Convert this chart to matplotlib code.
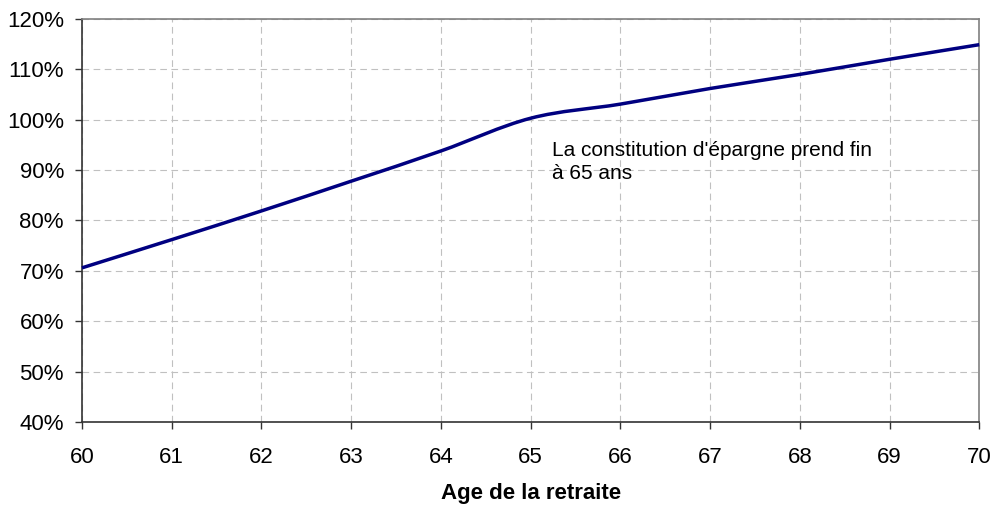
import numpy as np
import matplotlib
matplotlib.use("Agg")
import matplotlib.pyplot as plt
from matplotlib.path import Path
from matplotlib.patches import PathPatch
from matplotlib.ticker import PercentFormatter

plt.rcParams['font.family'] = ['Liberation Sans', 'DejaVu Sans']

ages = [60, 61, 62, 63, 64, 65, 66, 67, 68, 69, 70]
ratio = [70.6, 76.2, 81.9, 87.8, 93.8, 100.3, 103.1, 106.2, 109.0, 112.0, 114.9]
note = "La constitution d'épargne prend fin\nà 65 ans"
x_label = "Age de la retraite"

fig = plt.figure(figsize=(9.97, 5.09), dpi=100, facecolor="white")
ax = fig.add_axes([0.0822, 0.1709, 0.9000, 0.7918])

# smoothed line like Excel: cubic bezier segments (Catmull-Rom tangents)
x = np.array(ages, dtype=float)
y = np.array(ratio, dtype=float)
verts = [(x[0], y[0])]
codes = [Path.MOVETO]
n = len(x)
for i in range(n - 1):
    p0 = (x[max(i - 1, 0)], y[max(i - 1, 0)])
    p1 = (x[i], y[i])
    p2 = (x[i + 1], y[i + 1])
    p3 = (x[min(i + 2, n - 1)], y[min(i + 2, n - 1)])
    c1 = (p1[0] + (p2[0] - p0[0]) / 6, p1[1] + (p2[1] - p0[1]) / 6)
    c2 = (p2[0] - (p3[0] - p1[0]) / 6, p2[1] - (p3[1] - p1[1]) / 6)
    verts += [c1, c2, p2]
    codes += [Path.CURVE4] * 3
ax.add_patch(PathPatch(Path(verts, codes), fill=False, edgecolor="#000080",
                       lw=2.5, capstyle="butt", zorder=3, clip_on=False))

ax.set_xlim(60, 70)
ax.set_ylim(40, 120)
ax.set_xticks(ages)
ax.set_yticks(range(40, 121, 10))
ax.yaxis.set_major_formatter(PercentFormatter(decimals=0))
ax.tick_params(axis="both", direction="out", length=5, width=1,
               color="#333333", labelsize=16)
ax.tick_params(axis="y", pad=8)
ax.tick_params(axis="x", pad=13)

ax.grid(True, color="#c0c0c0", ls=(0, (6, 4)), lw=0.8)
ax.set_axisbelow(True)
for s in ["left", "bottom"]:
    ax.spines[s].set_color("#333333")
    ax.spines[s].set_linewidth(1.2)
for s in ["top", "right"]:
    ax.spines[s].set_color("#808080")
    ax.spines[s].set_linewidth(1.2)

ax.set_xlabel(x_label, fontsize=16, fontweight="bold", labelpad=11)
ax.text(65.24, 95.8, note, fontsize=15, va="top", ha="left", linespacing=1.25)

fig.savefig("out.png", dpi=100, facecolor="white")
